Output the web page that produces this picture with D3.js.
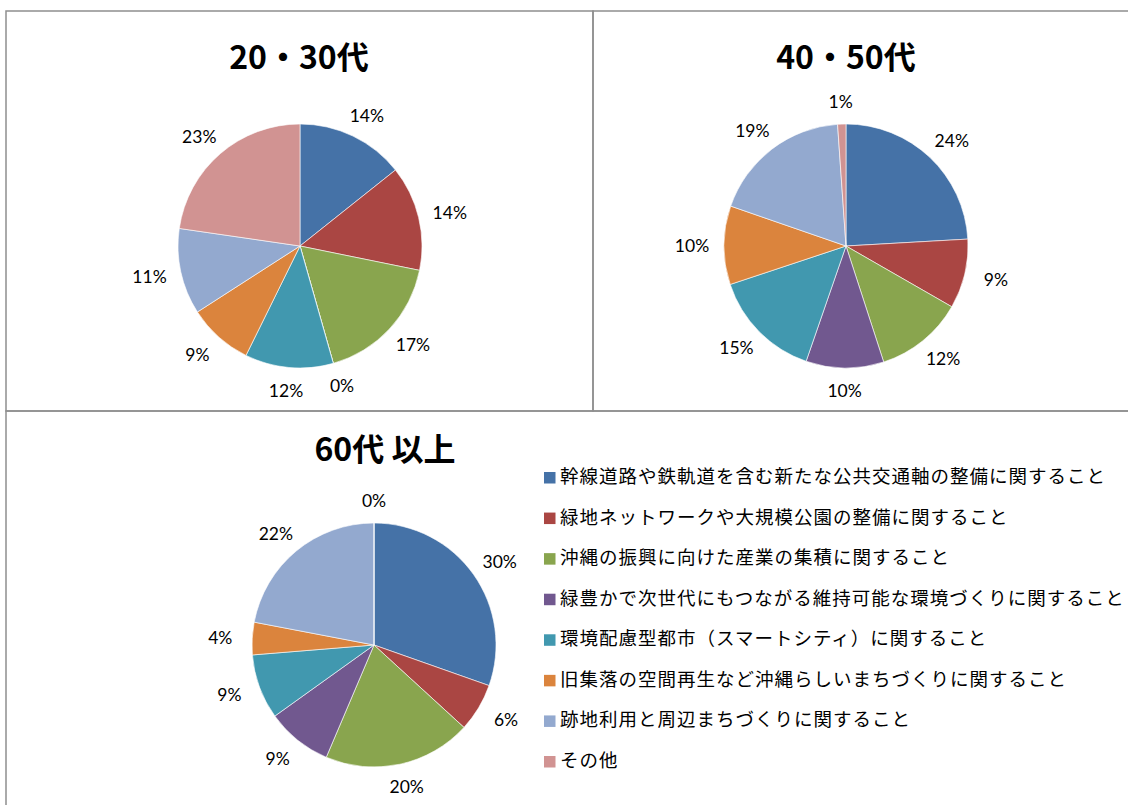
<!DOCTYPE html>
<html>
<head>
<meta charset="utf-8">
<script src="https://cdn.jsdelivr.net/npm/d3@7"></script>
<style>
  body { margin: 0; background: #fff; }
  svg { display: block; }
  .title { font-family: "Noto Sans CJK JP", sans-serif; font-weight: 700; font-size: 32px; }
  .pct { font-family: Lato, "Noto Sans", sans-serif; font-size: 17.5px; fill: #000; }
  .legend text { font-family: "Noto Sans CJK JP", sans-serif; font-size: 18.5px; letter-spacing: 1px; fill: #000; }
</style>
</head>
<body>
<svg id="chart" width="1128" height="805"></svg>
<script>
// categories (legend order = slice order, clockwise from 12 o'clock)
const categories = [
    "幹線道路や鉄軌道を含む新たな公共交通軸の整備に関すること",
    "緑地ネットワークや大規模公園の整備に関すること",
    "沖縄の振興に向けた産業の集積に関すること",
    "緑豊かで次世代にもつながる維持可能な環境づくりに関すること",
    "環境配慮型都市（スマートシティ）に関すること",
    "旧集落の空間再生など沖縄らしいまちづくりに関すること",
    "跡地利用と周辺まちづくりに関すること",
    "その他"
];
const colors = ["#4572A7", "#AA4643", "#89A54E", "#71588F", "#4198AF", "#DB843D", "#93A9CF", "#D19392"];

// shares in %, estimated from the slices
const age2030 = [14.3, 13.9, 17.4, 0, 11.7, 8.6, 11.4, 22.7];
const age4050 = [24.1, 9.2, 11.7, 10.3, 14.6, 10.4, 18.6, 1.1];
const age60 = [30.4, 6.4, 19.6, 8.7, 8.6, 4.3, 22.0, 0];

const panels = [
    { title: "20・30代", values: age2030, cx: 300, cy: 246, tx: 299, ty: 55 },
    { title: "40・50代", values: age4050, cx: 846, cy: 246, tx: 846, ty: 55 },
    { title: "60代 以上", values: age60, cx: 374, cy: 645, tx: 385, ty: 447 }
];

const svg = d3.select("#chart");
const radius = 122;
const labelRx = 154;
const labelRy = 145;

// panel frames
svg.append("rect").attr("x", 6).attr("y", 11).attr("width", 587).attr("height", 400)
    .attr("fill", "none").attr("stroke", "#8f8f8f").attr("stroke-width", 1.5);
svg.append("rect").attr("x", 593).attr("y", 11).attr("width", 560).attr("height", 400)
    .attr("fill", "none").attr("stroke", "#8f8f8f").attr("stroke-width", 1.5);
svg.append("rect").attr("x", 6).attr("y", 411).attr("width", 1150).attr("height", 420)
    .attr("fill", "none").attr("stroke", "#8f8f8f").attr("stroke-width", 1.5);

const pie = d3.pie().sort(null).value(d => d);
const arc = d3.arc().innerRadius(0).outerRadius(radius);
const unitArc = d3.arc().innerRadius(1).outerRadius(1);

panels.forEach(p => {
    svg.append("text")
        .attr("class", "title")
        .attr("x", p.tx)
        .attr("y", p.ty)
        .attr("text-anchor", "middle")
        .attr("dominant-baseline", "central")
        .style("white-space", "pre")
        .text(p.title);

    const g = svg.append("g").attr("transform", `translate(${p.cx},${p.cy})`);
    const arcs = pie(p.values);

    g.selectAll("path")
        .data(arcs)
        .join("path")
        .attr("d", arc)
        .attr("fill", (d, i) => colors[i])
        .attr("stroke", "#fff")
        .attr("stroke-width", 0.6);

    g.selectAll("text")
        .data(arcs)
        .join("text")
        .attr("class", "pct")
        .attr("transform", d => {
            const [ux, uy] = unitArc.centroid(d);
            return `translate(${ux * labelRx},${uy * labelRy})`;
        })
        .attr("text-anchor", "middle")
        .attr("dominant-baseline", "central")
        .text(d => Math.round(d.data) + "%");
});

// legend
const legend = svg.append("g").attr("class", "legend");
const rowY = d3.scalePoint().domain(d3.range(categories.length)).range([475, 759]);

categories.forEach((c, i) => {
    legend.append("rect")
        .attr("x", 544)
        .attr("y", rowY(i) - 3)
        .attr("width", 11.5)
        .attr("height", 11.5)
        .attr("fill", colors[i]);
    legend.append("text")
        .attr("x", 560)
        .attr("y", rowY(i))
        .attr("dominant-baseline", "central")
        .text(c);
});
</script>
</body>
</html>
